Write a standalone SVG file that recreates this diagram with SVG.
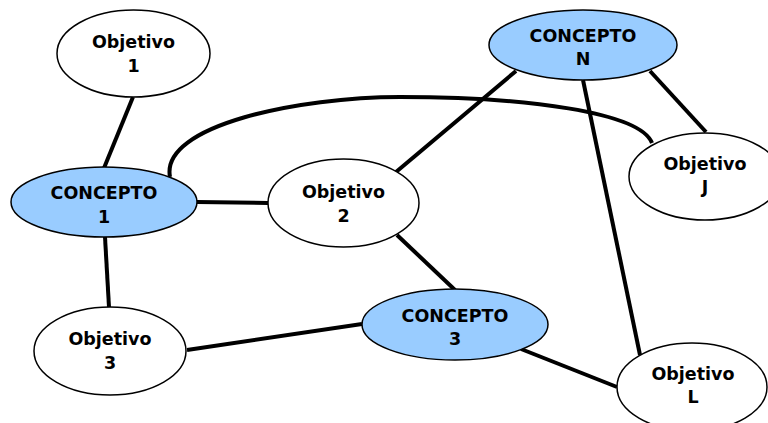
<svg xmlns="http://www.w3.org/2000/svg" width="768" height="423" viewBox="0 0 768 423">
  <style>
    .edge { stroke: #000; stroke-width: 4; fill: none; stroke-linecap: butt; }
    .obj { fill: #fff; stroke: #000; stroke-width: 1.5; }
    .con { fill: #99ccff; stroke: #000; stroke-width: 1.5; }
    text { font-family: "DejaVu Sans", Verdana, sans-serif; font-weight: bold; font-size: 17.5px; text-anchor: middle; fill: #000; }
  </style>
  <rect width="768" height="423" fill="#fff"/>

  <g id="connectors">
    <line class="edge" x1="133" y1="97" x2="104" y2="168"/>
    <line class="edge" x1="197" y1="202" x2="268" y2="203"/>
    <line class="edge" x1="105" y1="237" x2="109" y2="307"/>
    <line class="edge" x1="187" y1="350" x2="362" y2="324"/>
    <path class="edge" d="M170,177 C160,125 300,97 400,97 C525,97 640,112 652,143"/>
    <line class="edge" x1="516" y1="71" x2="396" y2="172"/>
    <line class="edge" x1="650" y1="71" x2="706" y2="132"/>
    <line class="edge" x1="583" y1="80" x2="640" y2="355"/>
    <line class="edge" x1="397" y1="235" x2="455" y2="290"/>
    <line class="edge" x1="521" y1="349" x2="617" y2="387"/>
  </g>

  <g id="objetivo-1">
    <ellipse class="obj" cx="133.5" cy="53.5" rx="76.5" ry="43.5"/>
    <text x="133.5" y="48">Objetivo</text>
    <text x="133.5" y="71.5">1</text>
  </g>
  <g id="concepto-1">
    <ellipse class="con" cx="104" cy="202" rx="93" ry="35"/>
    <text x="104" y="199">CONCEPTO</text>
    <text x="104" y="222.5">1</text>
  </g>
  <g id="objetivo-2">
    <ellipse class="obj" cx="343.5" cy="203" rx="75.5" ry="44"/>
    <text x="343.5" y="197.5">Objetivo</text>
    <text x="343.5" y="221.5">2</text>
  </g>
  <g id="objetivo-3">
    <ellipse class="obj" cx="110" cy="351" rx="76" ry="44"/>
    <text x="110" y="345">Objetivo</text>
    <text x="110" y="368.5">3</text>
  </g>
  <g id="concepto-n">
    <ellipse class="con" cx="583" cy="45" rx="94" ry="35"/>
    <text x="583" y="42">CONCEPTO</text>
    <text x="583" y="65">N</text>
  </g>
  <g id="objetivo-j">
    <ellipse class="obj" cx="705" cy="176.5" rx="76" ry="43.5"/>
    <text x="705" y="170">Objetivo</text>
    <text x="705" y="193">J</text>
  </g>
  <g id="concepto-3">
    <ellipse class="con" cx="455" cy="324.5" rx="93" ry="35.5"/>
    <text x="455" y="322">CONCEPTO</text>
    <text x="455" y="344.5">3</text>
  </g>
  <g id="objetivo-l">
    <ellipse class="obj" cx="692" cy="387" rx="75" ry="44"/>
    <text x="693" y="380">Objetivo</text>
    <text x="693" y="403">L</text>
  </g>
</svg>
